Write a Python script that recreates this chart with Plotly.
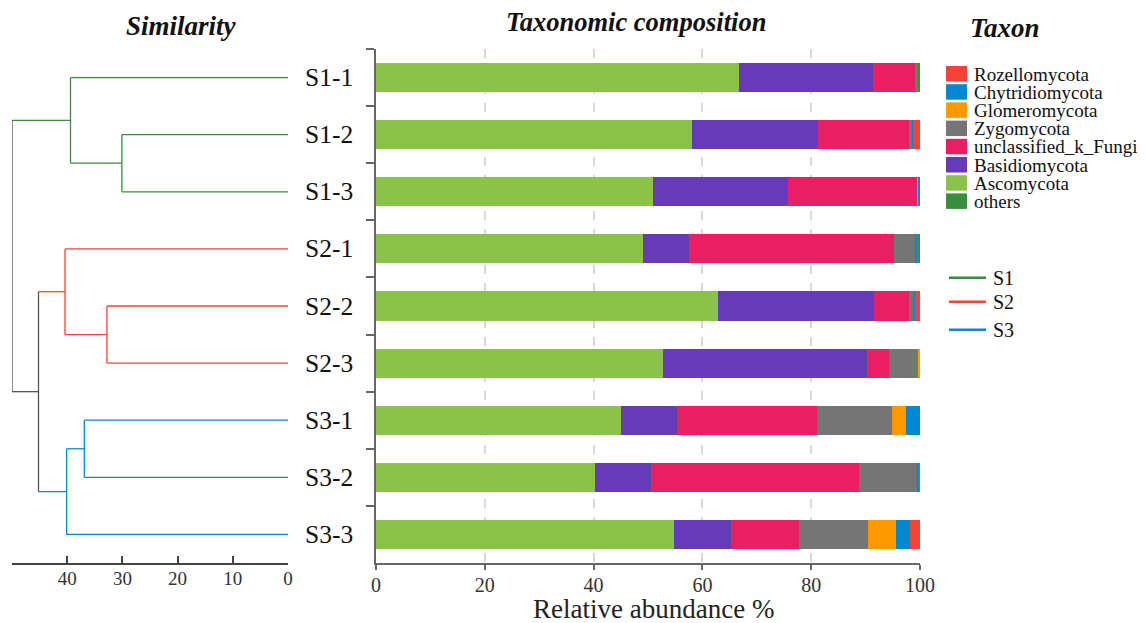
import plotly.graph_objects as go

W, H = 1146, 623
FONT = "Liberation Serif"
OFF = 8  # page body margin offset

# ---------------- data ----------------
samples = ["S1-1", "S1-2", "S1-3", "S2-1", "S2-2", "S2-3", "S3-1", "S3-2", "S3-3"]

# stacking order (left -> right)
taxa = ["Ascomycota", "Basidiomycota", "unclassified_k_Fungi", "Zygomycota",
        "Glomeromycota", "Chytridiomycota", "Rozellomycota", "others"]

ascomycota      = [66.7, 58.1, 50.9, 49.1, 62.9, 52.8, 45.0, 40.3, 54.7]
basidiomycota   = [24.6, 23.1, 24.8, 8.4, 28.6, 37.5, 10.3, 10.3, 10.6]
unclassified    = [7.8, 16.8, 23.9, 37.7, 6.5, 4.0, 25.8, 38.2, 12.4]
zygomycota      = [0.5, 0.7, 0.0, 3.9, 0.8, 5.3, 13.8, 10.7, 12.8]
glomeromycota   = [0.0, 0.0, 0.2, 0.0, 0.0, 0.4, 2.5, 0.0, 5.0]
chytridiomycota = [0.0, 0.1, 0.2, 0.3, 0.2, 0.0, 2.6, 0.4, 2.7]
rozellomycota   = [0.2, 1.2, 0.0, 0.4, 1.0, 0.0, 0.0, 0.1, 1.8]
others          = [0.2, 0.0, 0.0, 0.2, 0.0, 0.0, 0.0, 0.0, 0.0]

values = {
    "Ascomycota": ascomycota,
    "Basidiomycota": basidiomycota,
    "unclassified_k_Fungi": unclassified,
    "Zygomycota": zygomycota,
    "Glomeromycota": glomeromycota,
    "Chytridiomycota": chytridiomycota,
    "Rozellomycota": rozellomycota,
    "others": others,
}

taxon_colors = {
    "Rozellomycota": "#F44336",
    "Chytridiomycota": "#0288D1",
    "Glomeromycota": "#FF9800",
    "Zygomycota": "#757575",
    "unclassified_k_Fungi": "#E91E63",
    "Basidiomycota": "#673AB7",
    "Ascomycota": "#8BC34A",
    "others": "#388E3C",
}
legend_order = ["Rozellomycota", "Chytridiomycota", "Glomeromycota", "Zygomycota",
                "unclassified_k_Fungi", "Basidiomycota", "Ascomycota", "others"]

# dendrogram (node, left child, right child, height)
dendro_nodes = [
    ("A", "S1-2", "S1-3", 30.1),
    ("B", "S1-1", "A", 39.4),
    ("C", "S2-2", "S2-3", 32.8),
    ("D", "S2-1", "C", 40.4),
    ("E", "S3-1", "S3-2", 36.9),
    ("F", "E", "S3-3", 40.1),
    ("G", "D", "F", 45.2),
    ("H", "B", "G", 50.0),
]
groups = ["S1", "S2", "S3"]
group_colors = {"S1": "#388E3C", "S2": "#F44336", "S3": "#0288D1"}
mixed_color = "#555555"

dendro_ticks = [0, 10, 20, 30, 40, 50]
dendro_ticktext = ["0", "10", "20", "30", "40", ""]
bar_ticks = [0, 20, 40, 60, 80, 100]

# ---------------- helpers (screen px -> paper fraction) ----------------
def px_x(p):
    return (p - OFF) / W

def px_y(p):
    return 1 - (p - OFF) / H

fig = go.Figure()

# stacked bars
for t in taxa:
    fig.add_trace(go.Bar(
        y=samples, x=values[t], orientation="h", name=t,
        marker=dict(color=taxon_colors[t], line=dict(width=0)),
        showlegend=False, xaxis="x", yaxis="y",
    ))

# dendrogram geometry
ypos = {s: i for i, s in enumerate(samples)}
hgt = {s: 0.0 for s in samples}
grp = {s: s.split("-")[0] for s in samples}
for name, l, r, h in dendro_nodes:
    ypos[name] = (ypos[l] + ypos[r]) / 2
    hgt[name] = h
    grp[name] = grp[l] if grp[l] == grp[r] else None

segs = {g: ([], []) for g in groups + [None]}
for name, l, r, h in dendro_nodes:
    xs, ys = segs[grp[name]]
    xs += [h, h, None]
    ys += [ypos[l], ypos[r], None]
    for c in (l, r):
        xs, ys = segs[grp[c]]
        xs += [h, hgt[c], None]
        ys += [ypos[c], ypos[c], None]

for g, (xs, ys) in segs.items():
    fig.add_trace(go.Scatter(
        x=xs, y=ys, mode="lines",
        line=dict(color=group_colors.get(g, mixed_color), width=1.3),
        showlegend=False, hoverinfo="skip", xaxis="x2", yaxis="y2",
    ))

y_dom = [px_y(563), px_y(49)]

fig.update_layout(
    width=W, height=H,
    margin=dict(l=0, r=0, t=0, b=0, autoexpand=False),
    paper_bgcolor="white", plot_bgcolor="white",
    barmode="stack", bargap=0.49,
    font=dict(family=FONT, color="#222"),
    xaxis=dict(
        domain=[px_x(376), px_x(920)], range=[0, 100], anchor="y", automargin=False,
        tickvals=bar_ticks, showgrid=True, gridcolor="#d9d9d9", griddash="dash",
        gridwidth=2, showline=True, linecolor="#666", linewidth=2,
        ticks="outside", ticklen=5, tickwidth=2, tickcolor="#666",
        tickfont=dict(family=FONT, size=20, color="#333"), zeroline=False,
        ticklabelstandoff=-2,
    ),
    yaxis=dict(
        domain=y_dom, type="category", categoryarray=samples, categoryorder="array",
        range=[8.5, -0.5], tickson="boundaries", ticks="outside", ticklen=8,
        tickwidth=2, tickcolor="#666", showticklabels=False, showline=True,
        linecolor="#666", linewidth=2, showgrid=False, zeroline=False, anchor="x",
        automargin=False,
    ),
    xaxis2=dict(
        domain=[px_x(12), px_x(288)], range=[50, 0], anchor="y2", automargin=False,
        tickvals=dendro_ticks, ticktext=dendro_ticktext, ticks="inside",
        ticklen=7, tickwidth=1.5, tickcolor="#444", showline=True,
        linecolor="#444", linewidth=1.5, showgrid=False, zeroline=False,
        tickfont=dict(family=FONT, size=19, color="#333"), ticklabelstandoff=-3,
    ),
    yaxis2=dict(domain=y_dom, range=[8.5, -0.5], visible=False, anchor="x2",
                automargin=False),
)

annotations = []
shapes = []

# sample labels
for s in samples:
    annotations.append(dict(
        x=px_x(303), xref="paper", y=s, yref="y", xanchor="left", yanchor="middle",
        text=s, showarrow=False, font=dict(family=FONT, size=25.5, color="#111"),
    ))

# titles
for text, cx, cy, fs in [("Similarity", 181, 26, 27), ("Taxonomic composition", 636, 22, 26.5),
                         ("Taxon", 1005, 28, 27)]:
    annotations.append(dict(
        x=px_x(cx), y=px_y(cy), xref="paper", yref="paper", xanchor="center",
        yanchor="middle", text=f"<b><i>{text}</i></b>", showarrow=False,
        font=dict(family=FONT, size=fs, color="#111"),
    ))

# x-axis title of the bar panel
annotations.append(dict(
    x=px_x(653), y=px_y(609), xref="paper", yref="paper", xanchor="center",
    yanchor="middle", text="Relative abundance %", showarrow=False,
    font=dict(family=FONT, size=27, color="#222"),
))

# taxon legend
for i, t in enumerate(legend_order):
    top = 66 + 18.2 * i
    shapes.append(dict(
        type="rect", xref="paper", yref="paper",
        x0=px_x(946), x1=px_x(967), y0=px_y(top + 15.5), y1=px_y(top),
        fillcolor=taxon_colors[t], line=dict(width=0),
    ))
    annotations.append(dict(
        x=px_x(972), y=px_y(top + 8), xref="paper", yref="paper",
        xanchor="left", yanchor="middle", text=t, showarrow=False,
        font=dict(family=FONT, size=19, color="#111"),
    ))

# group legend
for g, yy in zip(groups, [277.7, 301.7, 329.7]):
    shapes.append(dict(
        type="line", xref="paper", yref="paper",
        x0=px_x(949), x1=px_x(986), y0=px_y(yy), y1=px_y(yy),
        line=dict(color=group_colors[g], width=2.5),
    ))
    annotations.append(dict(
        x=px_x(991), y=px_y(yy), xref="paper", yref="paper",
        xanchor="left", yanchor="middle", text=g, showarrow=False,
        font=dict(family=FONT, size=20, color="#111"),
    ))

fig.update_layout(annotations=annotations, shapes=shapes)

fig.write_html("out.html")
